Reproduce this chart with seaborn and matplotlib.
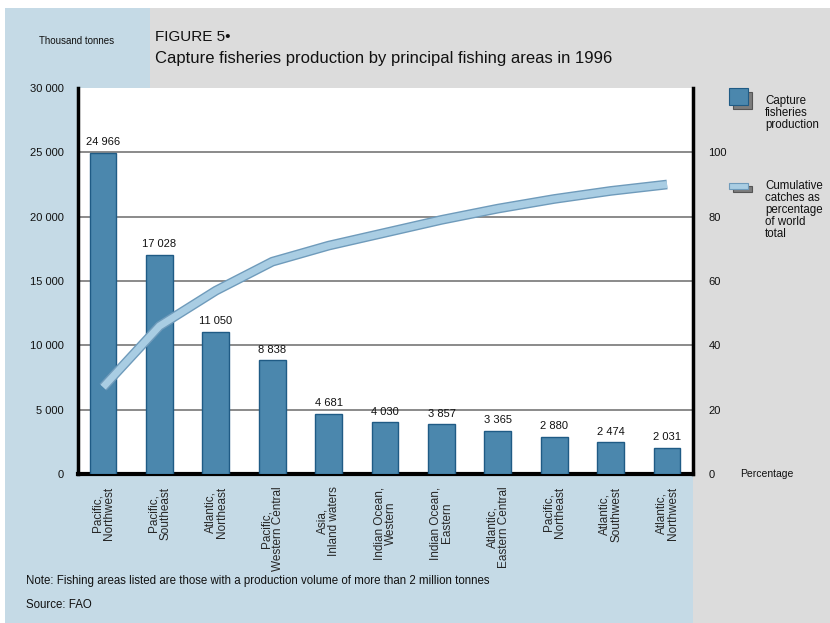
import matplotlib
matplotlib.use("Agg")
import matplotlib.pyplot as plt
import matplotlib.patheffects as pe
from matplotlib.patches import Rectangle
import seaborn as sns
import pandas as pd
import numpy as np

# ---------------- data ----------------
areas = ["Pacific,\nNorthwest", "Pacific,\nSoutheast", "Atlantic,\nNortheast",
         "Pacific,\nWestern Central", "Asia,\nInland waters", "Indian Ocean,\nWestern",
         "Indian Ocean,\nEastern", "Atlantic,\nEastern Central", "Pacific,\nNortheast",
         "Atlantic,\nSouthwest", "Atlantic,\nNorthwest"]
production = [24966, 17028, 11050, 8838, 4681, 4030, 3857, 3365, 2880, 2474, 2031]
bar_labels = ["24 966", "17 028", "11 050", "8 838", "4 681", "4 030", "3 857",
              "3 365", "2 880", "2 474", "2 031"]
cumulative_pct = [27, 46, 57, 66, 71, 75, 79, 82.5, 85.5, 88, 90]
left_ticks = [0, 5000, 10000, 15000, 20000, 25000, 30000]
left_tick_labels = ["0", "5 000", "10 000", "15 000", "20 000", "25 000", "30 000"]
right_ticks = [0, 20, 40, 60, 80, 100]
right_tick_labels = ["0", "20", "40", "60", "80", "100"]

df = pd.DataFrame({"area": areas, "production": production, "cum": cumulative_pct})
df["pos"] = np.arange(len(df))

# ---------------- style ----------------
sns.set_theme(style="white")
plt.rcParams['font.family'] = ['Liberation Sans', 'DejaVu Sans']

W, H = 830, 623
BAR = "#4b87ad"
BAR_EDGE = "#1f5b85"
LINE = "#a9cde3"
LINE_EDGE = "#6f9bbb"
GRAY = "#dcdcdc"
BLUE_BG = "#c5dae6"

fig = plt.figure(figsize=(W / 100, H / 100), dpi=100, facecolor="white")

def px_rect(x0, y0, x1, y1, color):
    fig.patches.append(Rectangle((x0 / W, 1 - y1 / H), (x1 - x0) / W, (y1 - y0) / H,
                                 transform=fig.transFigure, facecolor=color,
                                 edgecolor="none", zorder=-10))

px_rect(5, 8, 830, 623, GRAY)
px_rect(5, 8, 150, 88, BLUE_BG)
px_rect(5, 88, 693, 623, BLUE_BG)

L, R, T, B = 78, 693, 88, 474
ax = fig.add_axes([L / W, 1 - B / H, (R - L) / W, (B - T) / H])
ax.set_facecolor("white")

sns.barplot(data=df, x="area", y="production", color=BAR, width=0.475,
            edgecolor=BAR_EDGE, linewidth=1.0, saturation=1, ax=ax, zorder=3)
ax.bar_label(ax.containers[0], labels=bar_labels, padding=4, fontsize=8, color="#111111")

ax.set_xlim(-0.445, 10.46)
ax.set_ylim(0, 30000)
ax.set_yticks(left_ticks)
ax.set_yticklabels(left_tick_labels, fontsize=8)
ax.set_xlabel("")
ax.set_ylabel("")
ax.tick_params(axis="y", length=0, pad=10, labelcolor="#111111")
ax.tick_params(axis="x", length=0, pad=9)
ax.set_xticks(range(len(areas)))
ax.set_xticklabels(areas, rotation=90, fontsize=8.5, ha="center", va="top",
                   multialignment="center", linespacing=0.95)

ax.yaxis.grid(True, color="#777777", linewidth=1.2, zorder=0)
ax.set_axisbelow(True)
ax.get_ygridlines()[-1].set_visible(False)
ax.get_ygridlines()[0].set_visible(False)

for side in ["left", "right"]:
    ax.spines[side].set_visible(True)
    ax.spines[side].set_color("black")
    ax.spines[side].set_linewidth(2.5)
ax.spines["bottom"].set_color("black")
ax.spines["bottom"].set_linewidth(3)
ax.spines["top"].set_visible(False)

ax2 = ax.twinx()
sns.lineplot(data=df, x="pos", y="cum", sort=False, color=LINE, linewidth=5,
             solid_capstyle="butt", solid_joinstyle="round", ax=ax2, zorder=5,
             path_effects=[pe.Stroke(linewidth=7, foreground=LINE_EDGE), pe.Normal()])
ax2.set_ylim(0, 120)
ax2.set_yticks(right_ticks)
ax2.set_yticklabels(right_tick_labels, fontsize=8)
ax2.tick_params(axis="y", length=0, pad=11, labelcolor="#111111")
ax2.set_ylabel("")
ax2.set_xlabel("")
ax2.grid(False)
for s in ax2.spines.values():
    s.set_visible(False)
ax.set_xlim(-0.445, 10.46)

# ---------------- texts ----------------
def ftext(x, y, s, **kw):
    fig.text(x / W, 1 - y / H, s, **kw)

ftext(77, 41, "Thousand tonnes", fontsize=7, ha="center", va="center", color="#111111")
ftext(155, 37, "FIGURE 5•", fontsize=11, ha="left", va="center", color="#111111")
ftext(155, 58, "Capture fisheries production by principal fishing areas in 1996",
      fontsize=12, ha="left", va="center", color="#111111")
ftext(26, 581, "Note: Fishing areas listed are those with a production volume of more than 2 million tonnes",
      fontsize=8.3, ha="left", va="center", color="#111111")
ftext(26, 605, "Source: FAO", fontsize=8.3, ha="left", va="center", color="#111111")
ftext(740, 474, "Percentage", fontsize=7.5, ha="left", va="center", color="#111111")

# legend
px = lambda x0, y0, x1, y1, fc, ec, z: fig.patches.append(
    Rectangle((x0 / W, 1 - y1 / H), (x1 - x0) / W, (y1 - y0) / H,
              transform=fig.transFigure, facecolor=fc, edgecolor=ec, linewidth=0.8, zorder=z))
px(733, 92, 752, 109, "#7c7c7c", "#555555", 1)
px(729, 88, 748, 105, BAR, BAR_EDGE, 2)
px(733, 186, 752, 192, "#7c7c7c", "#555555", 1)
px(729, 183, 748, 189, LINE, LINE_EDGE, 2)
ftext(765, 95, "Capture\nfisheries\nproduction", fontsize=8.3, ha="left", va="top",
      linespacing=1.0, color="#111111")
ftext(765, 180, "Cumulative\ncatches as\npercentage\nof world\ntotal", fontsize=8.3,
      ha="left", va="top", linespacing=1.0, color="#111111")

fig.savefig("out.png", dpi=100, facecolor="white")
